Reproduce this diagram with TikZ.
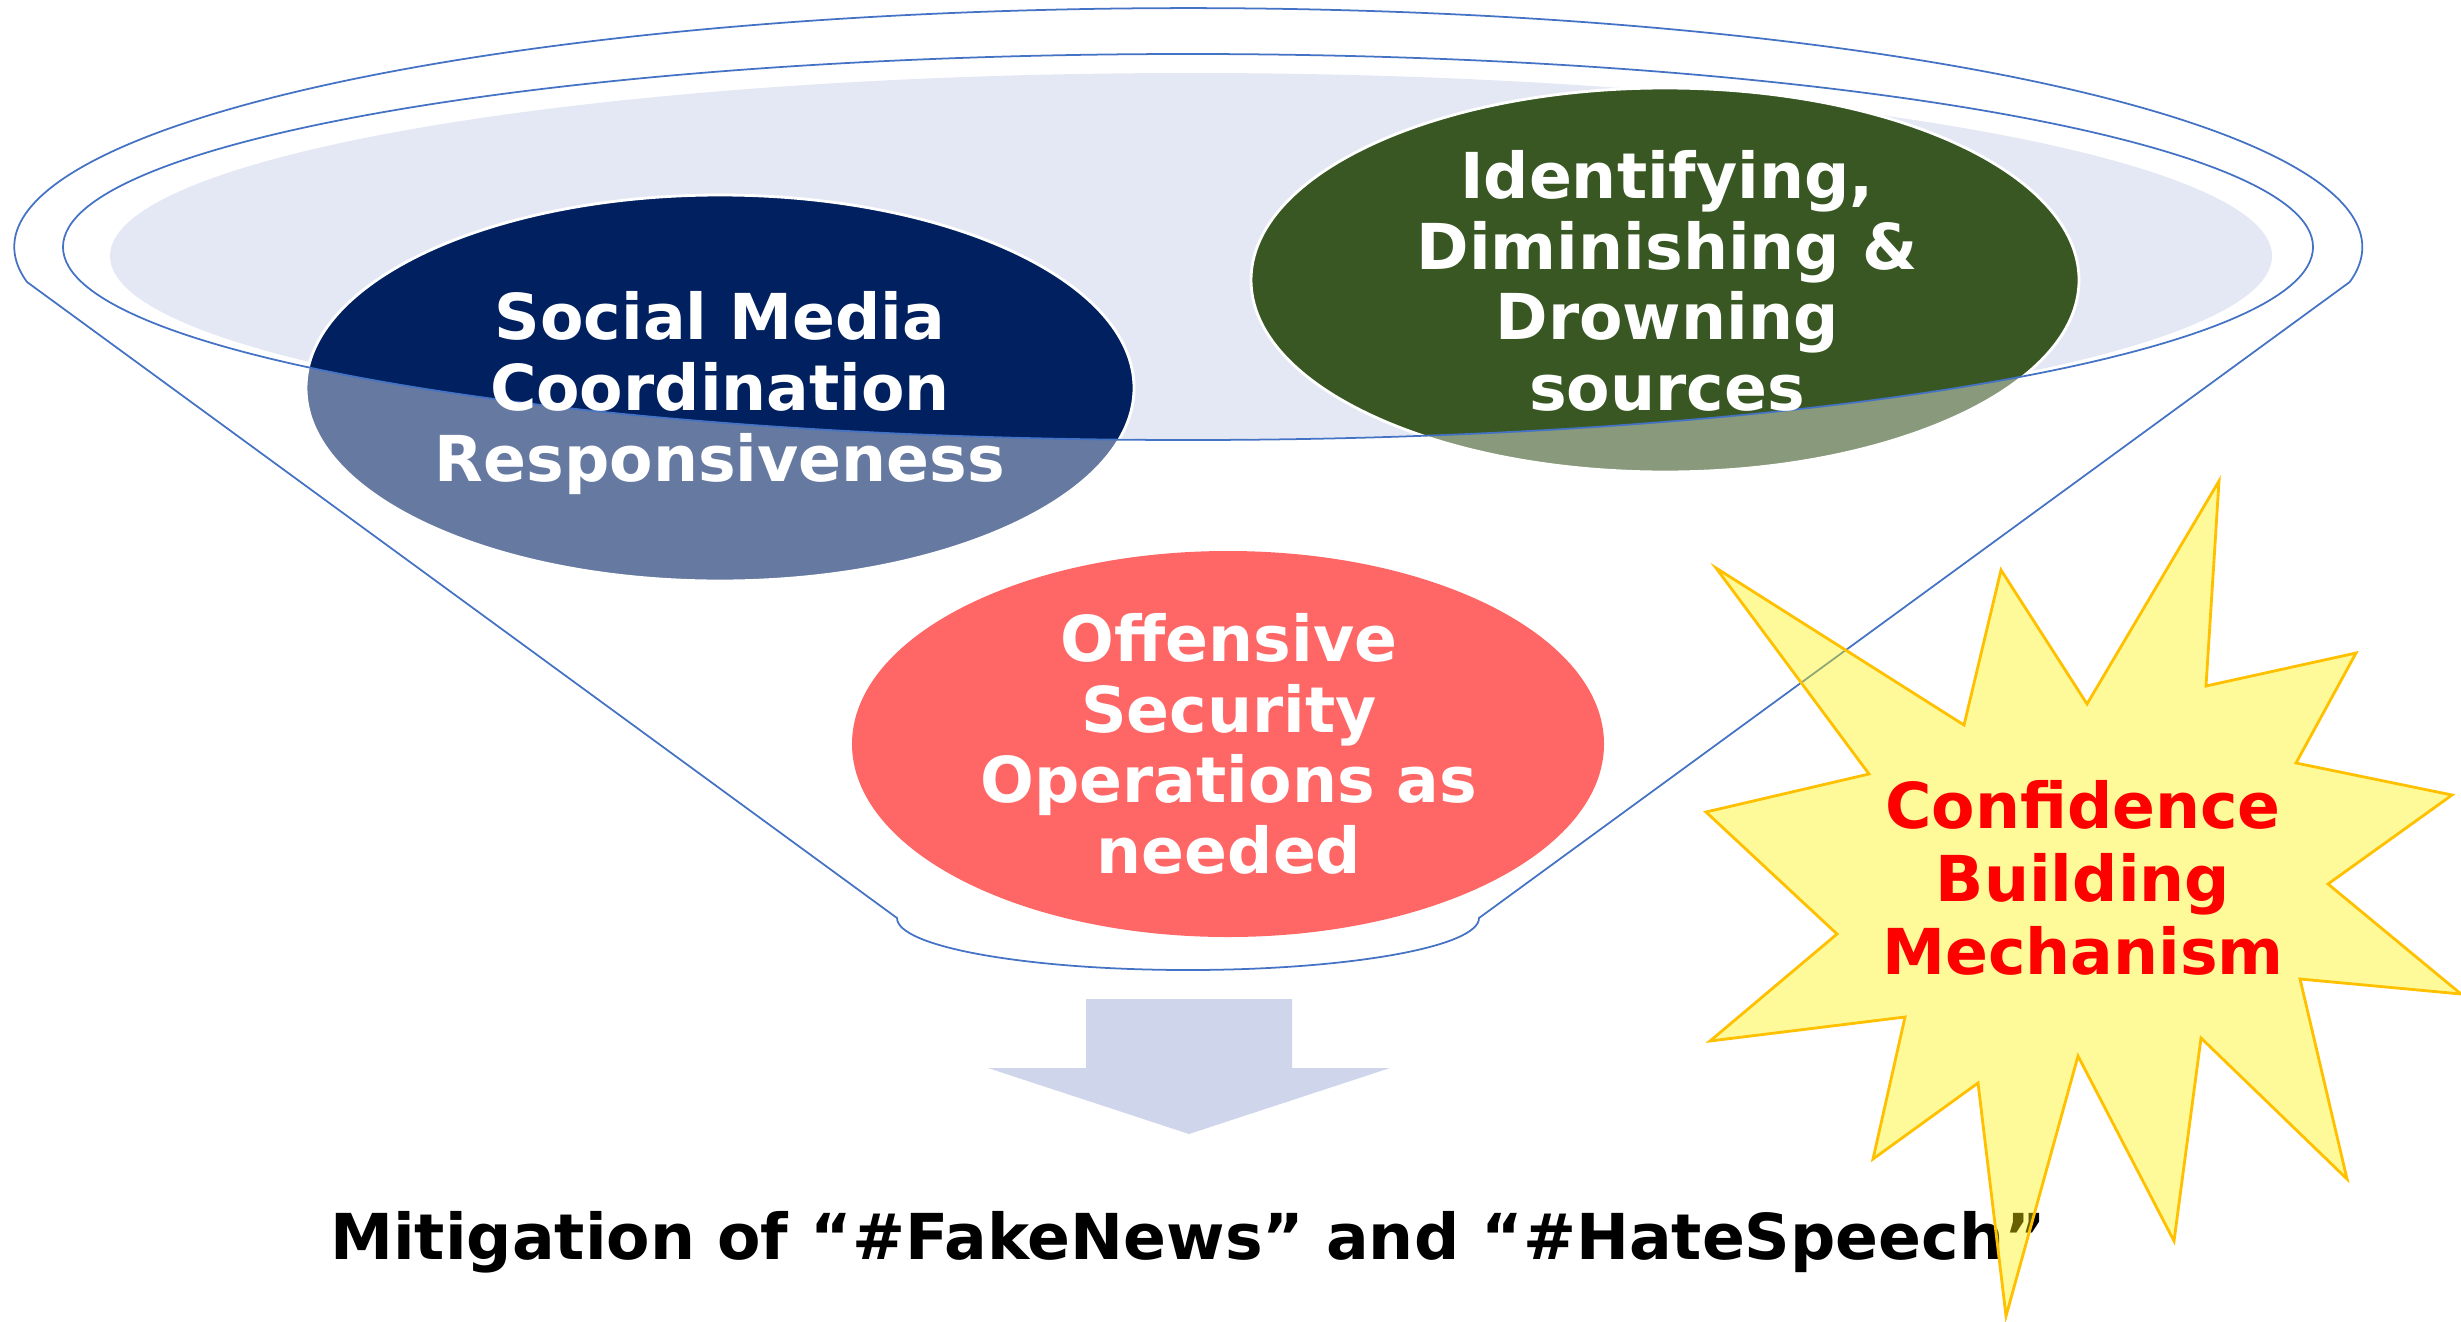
\documentclass[tikz,border=0pt]{standalone}
\usepackage{fontspec}
\setmainfont{DejaVu Sans}
\usepackage{tikz}
\definecolor{funline}{HTML}{4472C4}
\definecolor{funtop}{HTML}{E4E8F4}
\definecolor{navyc}{HTML}{002060}
\definecolor{greenc}{HTML}{385723}
\definecolor{arrowc}{HTML}{CFD5EA}
\definecolor{starline}{HTML}{FFC000}

\begin{document}
\begin{tikzpicture}[x=0.01cm, y=0.01cm]
\tikzstyle{every node}+=[inner sep=0pt]
\tikzstyle{wtext}=[align=center, text=white, font=\bfseries\fontsize{18}{20.1}\selectfont]
\useasboundingbox (0,0) rectangle (2461,-1321);
\fill [funtop] (1191,-256) ellipse (1081 and 183);
\fill [navyc!60!white] (720,-388) ellipse (414 and 193);
\fill [greenc!60!white] (1665,-280) ellipse (414 and 192);
\begin{scope}
\clip (1188,-247) ellipse (1125 and 193);
\fill [navyc] (720,-388) ellipse (414 and 193);
\fill [greenc] (1665,-280) ellipse (414 and 192);
\end{scope}
\draw [white, line width=0.8pt] (720,-388) ellipse (414 and 193);
\draw [white, line width=0.8pt] (1665,-280) ellipse (414 and 192);
\fill [red!60!white] (1228,-744) ellipse (376 and 193);
\draw [funline, line width=0.5pt] (1188,-247) ellipse (1125 and 193);
\draw [funline, line width=0.5pt] (27,-282) arc (188.4:-8.4:1174 and 239) -- (1479,-918) arc (0:-180:291 and 52) -- cycle;
\draw (720,-393) node [wtext] (social) {Social Media\\Coordination\\Responsiveness};
\draw (1667,-281) node [wtext] (identify) {Identifying,\\Diminishing \&\\Drowning\\sources};
\draw (1229,-744) node [wtext] (offense) {Offensive\\Security\\Operations as\\needed};
\fill [arrowc] (1086,-999) -- (1292,-999) -- (1292,-1068) -- (1390,-1068) -- (1189,-1134) -- (988,-1068) -- (1086,-1068) -- cycle;
\draw (1188,-1259) node [anchor=base, font=\bfseries\fontsize{18}{22}\selectfont] (mitig) {Mitigation of “\#FakeNews” and “\#HateSpeech”};
\filldraw [fill=yellow, fill opacity=0.4, draw=starline, line width=0.8pt, line join=miter] (1716,-568) -- (1964,-725) -- (2001,-570) -- (2087,-704) -- (2219,-481) -- (2206,-686) -- (2356,-653) -- (2296,-763) -- (2452,-795) -- (2328,-884) -- (2461,-994) -- (2300,-979) -- (2347,-1179) -- (2201,-1038) -- (2174,-1241) -- (2078,-1056) -- (2006,-1316) -- (1978,-1083) -- (1873,-1159) -- (1905,-1017) -- (1710,-1041) -- (1837,-934) -- (1706,-812) -- (1869,-774) -- cycle;
\draw (2083,-878) node [wtext, text=red, font=\bfseries\fontsize{18}{20.7}\selectfont] (cbm) {Confidence\\Building\\Mechanism};
\end{tikzpicture}
\end{document}
